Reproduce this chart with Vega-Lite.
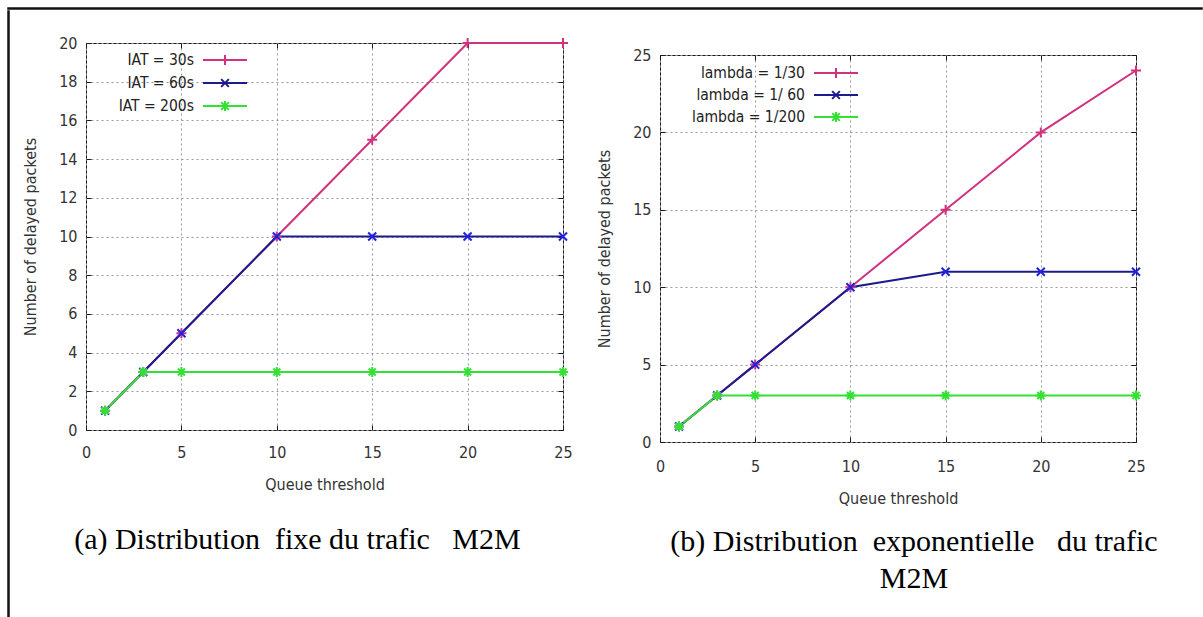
{
  "$schema": "https://vega.github.io/schema/vega-lite/v6.json",
  "background": "white",
  "padding": {"left": 7, "top": 7, "right": 0, "bottom": 0},
  "config": {
    "view": {"stroke": "#1a1a1a", "strokeWidth": 1},
    "axis": {
      "domain": false, "grid": true, "gridColor": "#9a9a9a", "gridDash": [2, 3], "gridWidth": 1,
      "tickColor": "#1a1a1a", "tickSize": -5, "tickWidth": 1,
      "labelFont": "DejaVu Sans Condensed", "labelFontSize": 16, "labelColor": "#333333",
      "titleFont": "DejaVu Sans Condensed", "titleFontSize": 16, "titleFontWeight": "normal", "titleColor": "#333333",
      "labelFlush": false, "labelOverlap": false
    },
    "axisX": {"titlePadding": 16, "labelPadding": 19},
    "axisY": {"titlePadding": 20, "labelPadding": 14},
    "title": {"font": "Liberation Serif", "fontSize": 30, "fontWeight": "normal", "color": "#000000"},
    "concat": {"spacing": 0}
  },
  "spacing": 0,
  "vconcat": [
    {"width": 1194, "height": 1, "data": {"values": []}, "mark": "point", "view": {"stroke": "#111111", "strokeWidth": 1.5}},
    {
      "spacing": 12,
      "hconcat": [
        {"width": 1, "height": 606, "data": {"values": []}, "mark": "point", "view": {"stroke": "#111111", "strokeWidth": 1.5}},
        {
          "spacing": 21,
          "vconcat": [
            {"width": 1, "height": 1, "data": {"values": []}, "mark": "point", "view": {"stroke": null}},
            {
              "spacing": 23,
              "resolve": {"scale": {"color": "independent", "shape": "independent"}, "legend": {"color": "independent", "shape": "independent"}},
              "hconcat": [
                {
                  "width": 477, "height": 387,
                  "data": {"values": [
                    {"threshold": 1, "delayed": 1, "series": "IAT = 30s"},
                    {"threshold": 3, "delayed": 3, "series": "IAT = 30s"},
                    {"threshold": 5, "delayed": 5, "series": "IAT = 30s"},
                    {"threshold": 10, "delayed": 10, "series": "IAT = 30s"},
                    {"threshold": 15, "delayed": 15, "series": "IAT = 30s"},
                    {"threshold": 20, "delayed": 20, "series": "IAT = 30s"},
                    {"threshold": 25, "delayed": 20, "series": "IAT = 30s"},
                    {"threshold": 1, "delayed": 1, "series": "IAT = 60s"},
                    {"threshold": 3, "delayed": 3, "series": "IAT = 60s"},
                    {"threshold": 5, "delayed": 5, "series": "IAT = 60s"},
                    {"threshold": 10, "delayed": 10, "series": "IAT = 60s"},
                    {"threshold": 15, "delayed": 10, "series": "IAT = 60s"},
                    {"threshold": 20, "delayed": 10, "series": "IAT = 60s"},
                    {"threshold": 25, "delayed": 10, "series": "IAT = 60s"},
                    {"threshold": 1, "delayed": 1, "series": "IAT = 200s"},
                    {"threshold": 3, "delayed": 3, "series": "IAT = 200s"},
                    {"threshold": 5, "delayed": 3, "series": "IAT = 200s"},
                    {"threshold": 10, "delayed": 3, "series": "IAT = 200s"},
                    {"threshold": 15, "delayed": 3, "series": "IAT = 200s"},
                    {"threshold": 20, "delayed": 3, "series": "IAT = 200s"},
                    {"threshold": 25, "delayed": 3, "series": "IAT = 200s"}
                  ]},
                  "title": {"text": "(a) Distribution\u00a0 fixe du trafic\u00a0\u00a0 M2M", "orient": "bottom", "offset": 33, "anchor": "middle", "frame": "bounds"},
                  "layer": [
                    {
                      "mark": {"type": "line", "strokeWidth": 2},
                      "encoding": {
                        "x": {"field": "threshold", "type": "quantitative", "scale": {"domain": [0, 25], "nice": false}, "axis": {"values": [0, 5, 10, 15, 20, 25], "title": "Queue threshold"}},
                        "y": {"field": "delayed", "type": "quantitative", "scale": {"domain": [0, 20], "nice": false}, "axis": {"values": [0, 2, 4, 6, 8, 10, 12, 14, 16, 18, 20], "title": "Number of delayed packets"}},
                        "color": {"field": "series", "type": "nominal", "scale": {"domain": ["IAT = 30s", "IAT = 60s", "IAT = 200s"], "range": ["#d0327e", "#1b1b8e", "#33e033"]},
                          "legend": {"orient": "none", "legendX": 127, "legendY": 5, "title": null, "padding": 0, "labelAlign": "right", "labelOffset": -43, "labelFont": "DejaVu Sans Condensed", "labelFontSize": 15.5, "labelColor": "#222222", "symbolSize": 484, "symbolStrokeWidth": 2, "symbolOpacity": 1, "rowPadding": 2}}
                      }
                    },
                    {
                      "transform": [{"filter": "datum.series === 'IAT = 30s'"}],
                      "mark": {"type": "point", "shape": "M-1,0H1M0,-1V1", "size": 100, "strokeWidth": 2, "color": "#d0327e", "opacity": 1, "filled": false},
                      "encoding": {
                        "x": {"field": "threshold", "type": "quantitative", "axis": null},
                        "y": {"field": "delayed", "type": "quantitative", "axis": null}
                      }
                    },
                    {
                      "transform": [{"filter": "datum.series === 'IAT = 60s'"}],
                      "mark": {"type": "point", "shape": "M-0.8,-0.8L0.8,0.8M-0.8,0.8L0.8,-0.8", "size": 100, "strokeWidth": 2, "color": "#2020e0", "opacity": 1, "filled": false},
                      "encoding": {
                        "x": {"field": "threshold", "type": "quantitative", "axis": null},
                        "y": {"field": "delayed", "type": "quantitative", "axis": null}
                      }
                    },
                    {
                      "transform": [{"filter": "datum.series === 'IAT = 200s'"}],
                      "mark": {"type": "point", "shape": "M-1,0H1M0,-1V1M-0.7,-0.7L0.7,0.7M-0.7,0.7L0.7,-0.7", "size": 100, "strokeWidth": 2, "color": "#33e033", "opacity": 1, "filled": false},
                      "encoding": {
                        "x": {"field": "threshold", "type": "quantitative", "axis": null},
                        "y": {"field": "delayed", "type": "quantitative", "axis": null}
                      }
                    },
                    {
                      "mark": {"type": "point", "opacity": 0, "filled": false, "strokeWidth": 2},
                      "encoding": {
                        "x": {"field": "threshold", "type": "quantitative", "axis": {"orient": "top", "labels": false, "title": null, "grid": false, "values": [0, 5, 10, 15, 20, 25]}},
                        "y": {"field": "delayed", "type": "quantitative", "axis": {"orient": "right", "labels": false, "title": null, "grid": false, "values": [0, 2, 4, 6, 8, 10, 12, 14, 16, 18, 20]}},
                        "color": {"field": "series", "type": "nominal", "scale": {"domain": ["IAT = 30s", "IAT = 60s", "IAT = 200s"], "range": ["#d0327e", "#1b1b8e", "#33e033"]},
                          "legend": {"orient": "none", "legendX": 127, "legendY": 5, "title": null, "padding": 0, "labelAlign": "right", "labelOffset": -43, "labelFont": "DejaVu Sans Condensed", "labelFontSize": 15.5, "labelColor": "#222222", "symbolSize": 484, "symbolStrokeWidth": 2, "symbolOpacity": 1, "rowPadding": 2}},
                        "shape": {"field": "series", "type": "nominal", "scale": {"domain": ["IAT = 30s", "IAT = 60s", "IAT = 200s"], "range": ["M-2,0H2M0,-0.45V0.45", "M-2,0H2M-0.35,-0.35L0.35,0.35M-0.35,0.35L0.35,-0.35", "M-2,0H2M0,-0.45V0.45M-0.35,-0.35L0.35,0.35M-0.35,0.35L0.35,-0.35"]},
                          "legend": {"orient": "none", "legendX": 127, "legendY": 5, "title": null, "padding": 0, "labelAlign": "right", "labelOffset": -43, "labelFont": "DejaVu Sans Condensed", "labelFontSize": 15.5, "labelColor": "#222222", "symbolSize": 484, "symbolStrokeWidth": 2, "symbolOpacity": 1, "rowPadding": 2}}
                      }
                    }
                  ],
                  "resolve": {"axis": {"x": "independent", "y": "independent"}}
                },
                {
                  "spacing": 2,
                  "resolve": {"scale": {"color": "independent", "shape": "independent"}, "legend": {"color": "independent", "shape": "independent"}},
                  "vconcat": [
                    {"width": 1, "height": 1, "data": {"values": []}, "mark": "point", "view": {"stroke": null}},
                    {
                      "width": 476, "height": 387,
                      "data": {"values": [
                        {"threshold": 1, "delayed": 1, "series": "lambda = 1/30"},
                        {"threshold": 3, "delayed": 3, "series": "lambda = 1/30"},
                        {"threshold": 5, "delayed": 5, "series": "lambda = 1/30"},
                        {"threshold": 10, "delayed": 10, "series": "lambda = 1/30"},
                        {"threshold": 15, "delayed": 15, "series": "lambda = 1/30"},
                        {"threshold": 20, "delayed": 20, "series": "lambda = 1/30"},
                        {"threshold": 25, "delayed": 24, "series": "lambda = 1/30"},
                        {"threshold": 1, "delayed": 1, "series": "lambda = 1/ 60"},
                        {"threshold": 3, "delayed": 3, "series": "lambda = 1/ 60"},
                        {"threshold": 5, "delayed": 5, "series": "lambda = 1/ 60"},
                        {"threshold": 10, "delayed": 10, "series": "lambda = 1/ 60"},
                        {"threshold": 15, "delayed": 11, "series": "lambda = 1/ 60"},
                        {"threshold": 20, "delayed": 11, "series": "lambda = 1/ 60"},
                        {"threshold": 25, "delayed": 11, "series": "lambda = 1/ 60"},
                        {"threshold": 1, "delayed": 1, "series": "lambda = 1/200"},
                        {"threshold": 3, "delayed": 3, "series": "lambda = 1/200"},
                        {"threshold": 5, "delayed": 3, "series": "lambda = 1/200"},
                        {"threshold": 10, "delayed": 3, "series": "lambda = 1/200"},
                        {"threshold": 15, "delayed": 3, "series": "lambda = 1/200"},
                        {"threshold": 20, "delayed": 3, "series": "lambda = 1/200"},
                        {"threshold": 25, "delayed": 3, "series": "lambda = 1/200"}
                      ]},
                      "title": {"text": ["(b) Distribution\u00a0 exponentielle\u00a0\u00a0 du trafic", "M2M"], "orient": "bottom", "offset": 21, "anchor": "middle", "frame": "group", "dx": 16, "lineHeight": 37},
                      "layer": [
                        {
                          "mark": {"type": "line", "strokeWidth": 2},
                          "encoding": {
                            "x": {"field": "threshold", "type": "quantitative", "scale": {"domain": [0, 25], "nice": false}, "axis": {"values": [0, 5, 10, 15, 20, 25], "title": "Queue threshold", "labelPadding": 21}},
                            "y": {"field": "delayed", "type": "quantitative", "scale": {"domain": [0, 25], "nice": false}, "axis": {"values": [0, 5, 10, 15, 20, 25], "title": "Number of delayed packets"}},
                            "color": {"field": "series", "type": "nominal", "scale": {"domain": ["lambda = 1/30", "lambda = 1/ 60", "lambda = 1/200"], "range": ["#d0327e", "#1b1b8e", "#33e033"]},
                              "legend": {"orient": "none", "legendX": 164, "legendY": 6, "title": null, "padding": 0, "labelAlign": "right", "labelOffset": -43, "labelFont": "DejaVu Sans Condensed", "labelFontSize": 15.5, "labelColor": "#222222", "symbolSize": 484, "symbolStrokeWidth": 2, "symbolOpacity": 1, "rowPadding": 1}}
                          }
                        },
                        {
                          "transform": [{"filter": "datum.series === 'lambda = 1/30'"}],
                          "mark": {"type": "point", "shape": "M-1,0H1M0,-1V1", "size": 100, "strokeWidth": 2, "color": "#d0327e", "opacity": 1, "filled": false},
                          "encoding": {
                            "x": {"field": "threshold", "type": "quantitative", "axis": null},
                            "y": {"field": "delayed", "type": "quantitative", "axis": null}
                          }
                        },
                        {
                          "transform": [{"filter": "datum.series === 'lambda = 1/ 60'"}],
                          "mark": {"type": "point", "shape": "M-0.8,-0.8L0.8,0.8M-0.8,0.8L0.8,-0.8", "size": 100, "strokeWidth": 2, "color": "#2020e0", "opacity": 1, "filled": false},
                          "encoding": {
                            "x": {"field": "threshold", "type": "quantitative", "axis": null},
                            "y": {"field": "delayed", "type": "quantitative", "axis": null}
                          }
                        },
                        {
                          "transform": [{"filter": "datum.series === 'lambda = 1/200'"}],
                          "mark": {"type": "point", "shape": "M-1,0H1M0,-1V1M-0.7,-0.7L0.7,0.7M-0.7,0.7L0.7,-0.7", "size": 100, "strokeWidth": 2, "color": "#33e033", "opacity": 1, "filled": false},
                          "encoding": {
                            "x": {"field": "threshold", "type": "quantitative", "axis": null},
                            "y": {"field": "delayed", "type": "quantitative", "axis": null}
                          }
                        },
                        {
                          "mark": {"type": "point", "opacity": 0, "filled": false, "strokeWidth": 2},
                          "encoding": {
                            "x": {"field": "threshold", "type": "quantitative", "axis": {"orient": "top", "labels": false, "title": null, "grid": false, "values": [0, 5, 10, 15, 20, 25]}},
                            "y": {"field": "delayed", "type": "quantitative", "axis": {"orient": "right", "labels": false, "title": null, "grid": false, "values": [0, 5, 10, 15, 20, 25]}},
                            "color": {"field": "series", "type": "nominal", "scale": {"domain": ["lambda = 1/30", "lambda = 1/ 60", "lambda = 1/200"], "range": ["#d0327e", "#1b1b8e", "#33e033"]},
                              "legend": {"orient": "none", "legendX": 164, "legendY": 6, "title": null, "padding": 0, "labelAlign": "right", "labelOffset": -43, "labelFont": "DejaVu Sans Condensed", "labelFontSize": 15.5, "labelColor": "#222222", "symbolSize": 484, "symbolStrokeWidth": 2, "symbolOpacity": 1, "rowPadding": 1}},
                            "shape": {"field": "series", "type": "nominal", "scale": {"domain": ["lambda = 1/30", "lambda = 1/ 60", "lambda = 1/200"], "range": ["M-2,0H2M0,-0.45V0.45", "M-2,0H2M-0.35,-0.35L0.35,0.35M-0.35,0.35L0.35,-0.35", "M-2,0H2M0,-0.45V0.45M-0.35,-0.35L0.35,0.35M-0.35,0.35L0.35,-0.35"]},
                              "legend": {"orient": "none", "legendX": 164, "legendY": 6, "title": null, "padding": 0, "labelAlign": "right", "labelOffset": -43, "labelFont": "DejaVu Sans Condensed", "labelFontSize": 15.5, "labelColor": "#222222", "symbolSize": 484, "symbolStrokeWidth": 2, "symbolOpacity": 1, "rowPadding": 1}}
                          }
                        }
                      ],
                      "resolve": {"axis": {"x": "independent", "y": "independent"}}
                    }
                  ]
                }
              ]
            }
          ]
        }
      ]
    }
  ]
}
